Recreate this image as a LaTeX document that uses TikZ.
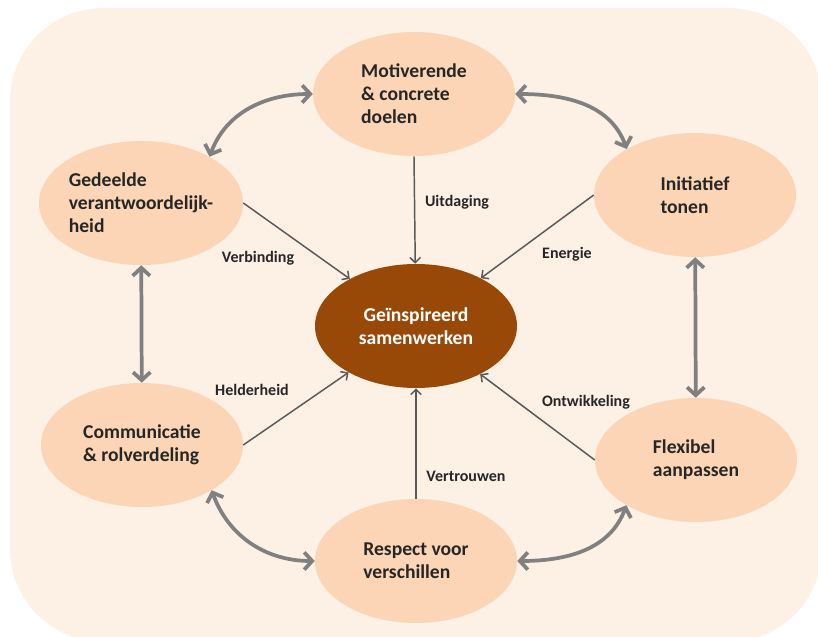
\documentclass[tikz,border=0pt]{standalone}
\usepackage{fontspec}
\setmainfont{Carlito}
\usepackage{tikz}
\usetikzlibrary{arrows.meta,shapes.geometric}
\definecolor{bgpeach}{HTML}{FDF0E5}
\definecolor{ovalpeach}{HTML}{FBD5B5}
\definecolor{corebrown}{HTML}{984807}
\definecolor{thingray}{HTML}{595959}
\definecolor{thickgray}{HTML}{808080}
\tikzset{>/.tip={Straight Barb[length=4pt,width=8pt]},
  oval/.style={ellipse, fill=ovalpeach, minimum width=151.5pt, minimum height=93pt,
    inner sep=0pt, align=left, text=black!85,
    font=\bfseries\fontsize{14.7}{17.25}\selectfont},
  core/.style={oval, fill=corebrown, text=white, align=center},
  flow/.style={->, thingray, line width=1.1pt},
  link/.style={>={Straight Barb[length=6pt,width=13pt]}, <->, thickgray, line width=2.8pt},
  tag/.style={inner sep=0pt, text=black!85, font=\bfseries\fontsize{12}{14}\selectfont}}

\begin{document}
\begin{tikzpicture}[x=0.75pt,y=0.75pt]
\useasboundingbox (0,0) rectangle (818,636);
\fill[bgpeach, rounded corners=70pt] (10,-6) rectangle (822,628);
\node[oval] (mot) at (414,542) {Motiverende\\\& concrete\\doelen};
\node[oval] (ged) at (141,433) {Gedeelde\\verantwoordelijk-\\heid};
\node[oval] (ini) at (695,441) {Initiatief\\tonen};
\node[oval] (com) at (142,191) {Communicatie\\\& rolverdeling};
\node[oval] (res) at (416,75)  {Respect voor\\verschillen};
\node[oval] (fle) at (696,176) {Flexibel\\aanpassen};
\node[core] (gei) at (416,310) {Geïnspireerd\\samenwerken};
\node[tag] (uit) at (457,434) {Uitdaging};
\node[tag] (ver) at (258,378) {Verbinding};
\node[tag] (ene) at (567,382) {Energie};
\node[tag] (hel) at (252,246) {Helderheid};
\node[tag] (vtr) at (466,160) {Vertrouwen};
\node[tag] (ont) at (586,234) {Ontwikkeling};
\foreach \from in {mot.south,ged.east,ini.west,com.east,res.north,fle.west}
{
  \draw[flow] (\from) to (gei);
}
\draw[link] (mot.west) to[out=180, in=70] (ged.34);
\draw[link] (mot.east) to[out=0, in=110] (ini.146);
\draw[link] (ged) to (com);
\draw[link] (ini) to (fle);
\draw[link] (com.-33) to[out=-70, in=180] (res.west);
\draw[link] (res.east) to[out=0, in=-110] (fle.213);
\end{tikzpicture}
\end{document}
